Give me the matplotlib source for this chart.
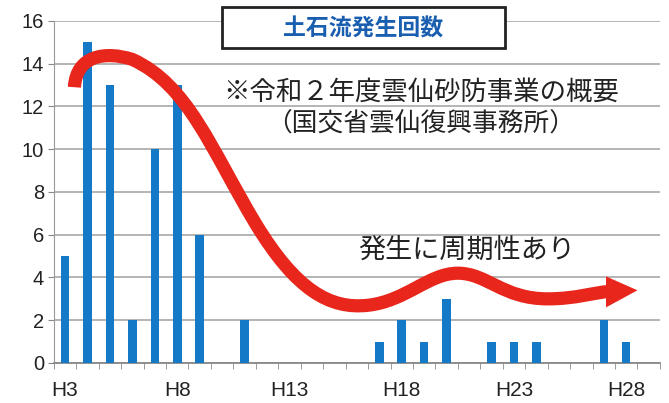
import matplotlib.pyplot as plt
from matplotlib.path import Path
from matplotlib.patches import PathPatch, Polygon, Rectangle

plt.rcParams['font.family'] = ['Liberation Sans', 'Noto Sans CJK JP', 'DejaVu Sans']

# 年度 H3..H29
years = ['H%d' % n for n in range(3, 30)]
counts = [5, 15, 13, 2, 10, 13, 6, 0, 2, 0, 0, 0, 0, 0, 1, 2, 1, 3, 0, 1, 1, 1, 0, 0, 2, 1, 0]
label_years = ['H3', 'H8', 'H13', 'H18', 'H23', 'H28']
yticks = list(range(0, 17, 2))

title = '土石流発生回数'
note1 = '※令和２年度雲仙砂防事業の概要'
note2 = '（国交省雲仙復興事務所）'
note3 = '発生に周期性あり'

fig = plt.figure(figsize=(6.69, 4.03), dpi=100)
ax = fig.add_axes([0.0804, 0.0993, 0.906, 0.8487])

x = list(range(len(years)))
ax.bar(x, counts, width=0.38, color='#1479c6', zorder=3)

ax.set_xlim(-0.5, len(years) - 0.5)
ax.set_ylim(0, 16)
ax.set_yticks(yticks)
ax.yaxis.grid(True, color='#a0a0a0', linewidth=1.1, zorder=0)
ax.set_xticks([years.index(y) for y in label_years])
ax.set_xticklabels(label_years)
ax.set_xticks([i - 0.5 for i in range(len(years) + 1)], minor=True)
ax.tick_params(axis='x', which='major', length=0, pad=13, labelsize=15, labelcolor='#222222')
ax.tick_params(axis='x', which='minor', length=4, color='#888888', direction='out')
ax.tick_params(axis='y', length=4, color='#888888', labelsize=14.5, pad=3, labelcolor='#222222')
for s in ['top', 'right']:
    ax.spines[s].set_visible(False)
ax.spines['left'].set_color('#999999')
ax.spines['bottom'].set_color('#888888')
ax.spines['bottom'].set_linewidth(1.3)

# red trend arrow
verts = [(0.42, 12.9), (0.5, 14.4), (1.8, 14.6), (3.0, 14.2),
         (5.5, 13.0), (6.5, 10.0), (8.5, 6.5),
         (10.3, 3.4), (11.8, 2.5), (13.5, 2.7),
         (15.2, 2.9), (16.2, 4.2), (17.5, 4.2),
         (18.8, 4.2), (19.5, 3.0), (21.5, 3.0),
         (22.8, 3.0), (23.5, 3.3), (24.3, 3.35)]
codes = [Path.MOVETO] + [Path.CURVE4] * (len(verts) - 1)
ax.add_patch(PathPatch(Path(verts, codes), facecolor='none', edgecolor='#e8261c',
                       linewidth=9.5, capstyle='butt', zorder=4))
ax.add_patch(Polygon([(24.1, 4.05), (25.5, 3.4), (24.1, 2.6)], closed=True,
                     facecolor='#e8261c', edgecolor='none', zorder=4))

# title box
fig.patches.append(Rectangle((0.332, 0.881), 0.423, 0.101, transform=fig.transFigure,
                             facecolor='white', edgecolor='#222222', linewidth=2, zorder=5))
fig.text(0.543, 0.928, title, ha='center', va='center', fontsize=16.5, fontweight='bold',
         color='#1a5eb0', family=['Noto Sans CJK JP'], zorder=6)

fig.text(0.629, 0.772, note1, ha='center', va='center', fontsize=19,
         family=['Noto Sans CJK JP'], color='#222222')
fig.text(0.629, 0.692, note2, ha='center', va='center', fontsize=18.5,
         family=['Noto Sans CJK JP'], color='#222222')
fig.text(0.697, 0.380, note3, ha='center', va='center', fontsize=19.5,
         family=['Noto Sans CJK JP'], color='#222222')

plt.savefig('out.png', dpi=100)
